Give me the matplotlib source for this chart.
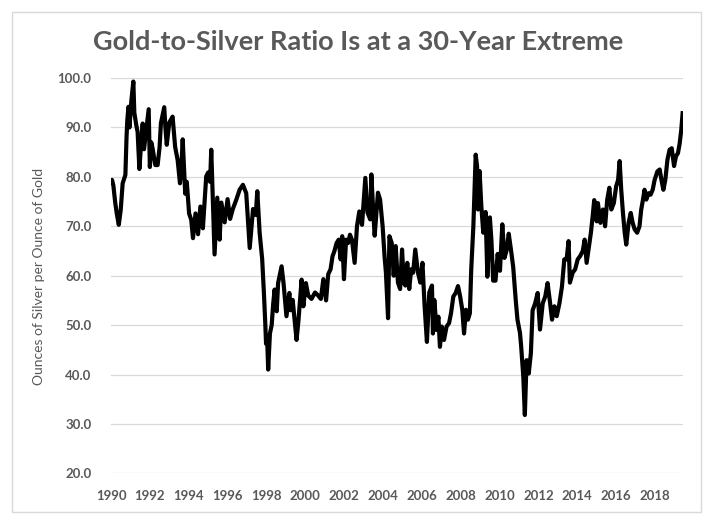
import matplotlib
matplotlib.use("Agg")
import matplotlib.pyplot as plt
from matplotlib.patches import Rectangle

years = [
    1990.00, 1990.05, 1990.12, 1990.22, 1990.30, 1990.40, 1990.50, 1990.60, 1990.74, 1990.80,
    1990.84, 1990.90, 1990.95, 1991.05, 1991.15, 1991.20, 1991.30, 1991.37, 1991.46, 1991.52,
    1991.63, 1991.70, 1991.80, 1991.94, 1992.00, 1992.07, 1992.14, 1992.28, 1992.40, 1992.50,
    1992.57, 1992.74, 1992.80, 1992.87, 1993.00, 1993.17, 1993.30, 1993.43, 1993.55, 1993.62,
    1993.69, 1993.82, 1993.90, 1994.02, 1994.13, 1994.22, 1994.35, 1994.48, 1994.60, 1994.73,
    1994.90, 1995.00, 1995.10, 1995.16, 1995.22, 1995.33, 1995.47, 1995.59, 1995.68, 1995.85,
    1996.00, 1996.13, 1996.27, 1996.45, 1996.62, 1996.79, 1996.96, 1997.14, 1997.31, 1997.45,
    1997.53, 1997.65, 1997.78, 1997.87, 1997.94, 1997.98, 1998.03, 1998.09, 1998.18, 1998.27,
    1998.35, 1998.42, 1998.53, 1998.60, 1998.78, 1998.88, 1999.03, 1999.18, 1999.25, 1999.35,
    1999.55, 1999.65, 1999.81, 1999.90, 2000.03, 2000.15, 2000.32, 2000.50, 2000.66, 2000.80,
    2000.93, 2001.07, 2001.18, 2001.30, 2001.40, 2001.50, 2001.61, 2001.72, 2001.82, 2001.90,
    2001.99, 2002.10, 2002.20, 2002.30, 2002.40, 2002.54, 2002.66, 2002.78, 2002.92, 2003.09,
    2003.20, 2003.34, 2003.40, 2003.50, 2003.57, 2003.74, 2003.85, 2003.98, 2004.08, 2004.15,
    2004.26, 2004.33, 2004.45, 2004.55, 2004.65, 2004.77, 2004.88, 2004.98, 2005.07, 2005.15,
    2005.25, 2005.35, 2005.45, 2005.55, 2005.66, 2005.80, 2005.92, 2006.03, 2006.14, 2006.26,
    2006.38, 2006.52, 2006.57, 2006.64, 2006.76, 2006.85, 2006.93, 2007.03, 2007.14, 2007.27,
    2007.40, 2007.50, 2007.62, 2007.74, 2007.86, 2007.97, 2008.08, 2008.17, 2008.27, 2008.37,
    2008.47, 2008.54, 2008.65, 2008.72, 2008.77, 2008.84, 2008.89, 2008.97, 2009.06, 2009.16,
    2009.28, 2009.37, 2009.50, 2009.58, 2009.67, 2009.79, 2009.90, 2010.02, 2010.14, 2010.25,
    2010.36, 2010.47, 2010.57, 2010.70, 2010.83, 2010.92, 2011.05, 2011.11, 2011.22, 2011.30,
    2011.39, 2011.50, 2011.61, 2011.70, 2011.83, 2011.96, 2012.08, 2012.22, 2012.35, 2012.47,
    2012.58, 2012.70, 2012.82, 2012.94, 2013.08, 2013.21, 2013.33, 2013.45, 2013.55, 2013.62,
    2013.76, 2013.89, 2014.02, 2014.15, 2014.28, 2014.38, 2014.48, 2014.60, 2014.70, 2014.79,
    2014.87, 2014.95, 2015.00, 2015.06, 2015.19, 2015.32, 2015.43, 2015.54, 2015.65, 2015.75,
    2015.88, 2016.00, 2016.10, 2016.18, 2016.26, 2016.35, 2016.44, 2016.52, 2016.64, 2016.75,
    2016.85, 2016.95, 2017.08, 2017.20, 2017.29, 2017.38, 2017.46, 2017.55, 2017.66, 2017.77,
    2017.88, 2017.98, 2018.12, 2018.24, 2018.33, 2018.43, 2018.53, 2018.64, 2018.75, 2018.86,
    2018.98, 2019.08, 2019.18, 2019.27, 2019.35, 2019.42,
]

ratio = [
    79.0, 79.4, 78.3, 74.7, 72.5, 70.3, 73.3, 78.7, 80.4, 88.1,
    91.5, 94.2, 90.0, 95.5, 99.3, 93.0, 90.5, 89.1, 81.6, 85.0,
    90.8, 85.6, 88.9, 93.7, 82.0, 87.0, 85.8, 82.4, 82.4, 86.0,
    90.9, 94.1, 90.0, 86.5, 91.0, 92.2, 86.1, 83.4, 78.7, 82.0,
    87.6, 76.6, 79.0, 72.6, 71.3, 67.6, 72.6, 68.4, 74.0, 69.6,
    80.1, 80.9, 79.0, 85.5, 78.1, 64.3, 75.8, 67.3, 74.8, 70.8,
    75.5, 71.5, 73.5, 75.4, 77.4, 78.4, 76.7, 65.6, 73.5, 72.3,
    77.1, 68.7, 63.4, 56.5, 50.4, 46.2, 48.0, 41.0, 48.3, 50.0,
    54.4, 57.2, 52.8, 58.5, 61.9, 58.5, 51.8, 56.5, 53.0, 55.1,
    47.0, 51.0, 59.2, 53.8, 58.5, 56.0, 55.3, 56.6, 56.0, 55.3,
    59.3, 55.0, 60.3, 61.3, 63.9, 65.0, 66.6, 67.3, 63.3, 68.0,
    59.3, 67.3, 66.6, 68.3, 67.3, 62.6, 70.0, 73.0, 70.3, 79.8,
    72.8, 71.4, 80.5, 72.8, 68.1, 76.8, 75.4, 70.0, 63.9, 60.6,
    51.4, 68.0, 66.6, 60.0, 66.0, 58.6, 57.3, 65.3, 58.6, 58.0,
    62.6, 57.3, 61.3, 60.6, 65.3, 60.6, 58.6, 62.6, 53.9, 46.6,
    56.6, 58.0, 48.3, 55.1, 49.0, 51.7, 45.6, 49.7, 47.0, 49.7,
    50.4, 52.4, 55.8, 56.5, 57.9, 55.8, 53.1, 48.3, 53.1, 51.1,
    52.4, 61.2, 70.0, 78.1, 84.5, 82.2, 73.4, 81.2, 74.1, 68.7,
    72.9, 59.8, 71.8, 67.1, 59.0, 59.0, 64.4, 61.0, 70.4, 63.6,
    65.1, 68.5, 65.7, 61.8, 55.1, 51.1, 48.4, 45.7, 39.6, 31.8,
    42.9, 40.2, 44.3, 53.0, 54.4, 56.5, 49.1, 54.4, 55.8, 58.5,
    55.1, 51.1, 53.8, 51.8, 54.4, 57.8, 63.3, 63.3, 67.0, 58.6,
    60.6, 61.3, 63.3, 64.0, 65.0, 67.3, 62.6, 66.0, 68.7, 72.0,
    75.3, 73.3, 71.0, 74.7, 70.7, 73.4, 70.0, 75.4, 77.8, 73.4,
    74.7, 78.1, 79.4, 83.2, 77.4, 72.7, 68.7, 66.3, 70.7, 72.7,
    70.7, 69.4, 68.7, 70.0, 73.4, 75.4, 77.4, 75.4, 76.7, 76.4,
    77.4, 79.4, 81.1, 81.5, 79.4, 77.4, 79.4, 83.5, 85.5, 85.8,
    82.2, 84.2, 84.8, 86.8, 89.5, 92.9,
]

x_ticks = list(range(1990, 2019, 2))
y_ticks = [20, 30, 40, 50, 60, 70, 80, 90, 100]

title = "Gold-to-Silver Ratio Is at a 30-Year Extreme"
ylabel = "Ounces of Silver per Ounce of Gold"

W, H = 717, 528
fig = plt.figure(figsize=(W / 100, H / 100), dpi=100)
fig.patch.set_facecolor("white")

ax = fig.add_axes([111 / W, 1 - 473.3 / H, (683 - 111) / W, (473.3 - 78.1) / H])
ax.plot(years, ratio, color="black", lw=3.0, solid_joinstyle="round")
ax.set_xlim(1990, 2019.44)
ax.set_ylim(20, 100)
ax.set_xticks(x_ticks)
ax.set_xticklabels([str(t) for t in x_ticks])
ax.set_yticks(y_ticks)
ax.set_yticklabels([f"{t:.1f}" for t in y_ticks])
for s in ax.spines.values():
    s.set_visible(False)
ax.grid(axis="y", color="#d9d9d9", lw=0.9)
ax.set_axisbelow(True)
ax.tick_params(axis="both", length=0, labelcolor="#595959")
ax.tick_params(axis="y", pad=14)
ax.tick_params(axis="x", pad=12)
for lab in ax.get_xticklabels() + ax.get_yticklabels():
    lab.set_fontfamily("Lato")
    lab.set_fontweight("bold")
    lab.set_fontsize(9.5)

fig.text(39 / W, 1 - 276 / H, ylabel, rotation=90, ha="center", va="center",
         fontsize=10, color="#595959", family="Lato")
fig.text(0.5, 1 - 42 / H, title, ha="center", va="center", fontsize=19.5,
         fontweight="bold", color="#595959", family="Lato")

fig.add_artist(Rectangle((11.5 / W, 1 - 511.7 / H), (700.5 - 11.5) / W, (511.7 - 12.3) / H,
                         transform=fig.transFigure, fill=False, edgecolor="#d9d9d9", lw=1))

fig.savefig("out.png", dpi=100)
